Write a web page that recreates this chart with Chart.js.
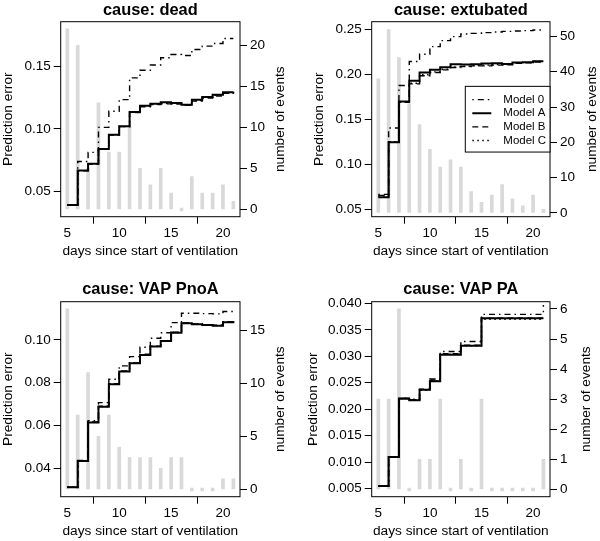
<!DOCTYPE html>
<html>
<head>
<meta charset="utf-8">
<script src="https://cdn.jsdelivr.net/npm/chart.js@4.4.1/dist/chart.umd.min.js"></script>
<style>
  body { margin: 0; background: #fff; width: 600px; height: 541px; overflow: hidden; position: relative; }
  canvas { position: absolute; }
</style>
</head>
<body>
<canvas id="pDead" width="300" height="270" style="left:0;top:0"></canvas>
<canvas id="pExt" width="300" height="270" style="left:300px;top:0"></canvas>
<canvas id="pPnoA" width="300" height="270" style="left:0;top:280px"></canvas>
<canvas id="pPA" width="300" height="270" style="left:300px;top:280px"></canvas>
<script>
// days since start of ventilation
const days = [5, 6, 7, 8, 9, 10, 11, 12, 13, 14, 15, 16, 17, 18, 19, 20, 21];
const xTicks = [5, 10, 15, 20];
const modelNames = ['Model 0', 'Model A', 'Model B', 'Model C'];

// cause: dead
const deadModel0 = [0.0393, 0.0740, 0.0812, 0.1012, 0.1140, 0.1233, 0.1407, 0.1468, 0.1510, 0.1567, 0.1593, 0.1585, 0.1633, 0.1660, 0.1681, 0.1721, 0.1721];
const deadModelA = [0.0393, 0.0668, 0.0721, 0.0839, 0.0953, 0.1020, 0.1135, 0.1185, 0.1201, 0.1212, 0.1207, 0.1193, 0.1233, 0.1255, 0.1273, 0.1292, 0.1297];
const deadModelB = [0.0395, 0.0666, 0.0719, 0.0836, 0.0950, 0.1018, 0.1131, 0.1176, 0.1193, 0.1199, 0.1198, 0.1188, 0.1221, 0.1245, 0.1262, 0.1283, 0.1288];
const deadModelC = [0.0394, 0.0667, 0.0720, 0.0838, 0.0952, 0.1019, 0.1133, 0.1180, 0.1196, 0.1203, 0.1202, 0.1190, 0.1226, 0.1249, 0.1267, 0.1287, 0.1292];
const deadEvents = [22, 20, 5, 13, 7, 7, 10, 5, 3, 5, 2, 0, 4, 2, 2, 3, 1];
const deadErrTicks = [0.05, 0.10, 0.15];
const deadEventTicks = [0, 5, 10, 15, 20];

// cause: extubated
const extModel0 = [0.0666, 0.1402, 0.1874, 0.2139, 0.2220, 0.2305, 0.2371, 0.2415, 0.2445, 0.2452, 0.2460, 0.2467, 0.2474, 0.2478, 0.2482, 0.2489, 0.2489];
const extModelA = [0.0636, 0.1244, 0.1697, 0.1925, 0.2017, 0.2047, 0.2076, 0.2110, 0.2106, 0.2110, 0.2117, 0.2121, 0.2113, 0.2128, 0.2132, 0.2143, 0.2143];
const extModelB = [0.0655, 0.1244, 0.1686, 0.1892, 0.1981, 0.2018, 0.2047, 0.2073, 0.2084, 0.2091, 0.2091, 0.2099, 0.2102, 0.2121, 0.2125, 0.2135, 0.2135];
const extModelC = [0.0648, 0.1251, 0.1693, 0.1899, 0.1992, 0.2025, 0.2054, 0.2080, 0.2088, 0.2095, 0.2099, 0.2106, 0.2106, 0.2125, 0.2128, 0.2139, 0.2139];
const extEvents = [38, 52, 44, 31, 25, 18, 13, 15, 13, 6, 3, 5, 8, 4, 2, 5, 1];
const extErrTicks = [0.05, 0.10, 0.15, 0.20, 0.25];
const extEventTicks = [0, 10, 20, 30, 40, 50];

// cause: VAP PnoA
const pnoaModel0 = [0.0311, 0.0436, 0.0623, 0.0707, 0.0816, 0.0879, 0.0922, 0.0966, 0.1008, 0.1034, 0.1081, 0.1125, 0.1125, 0.1123, 0.1122, 0.1133, 0.1133];
const pnoaModelA = [0.0311, 0.0434, 0.0614, 0.0688, 0.0793, 0.0852, 0.0891, 0.0930, 0.0969, 0.0995, 0.1034, 0.1078, 0.1073, 0.1070, 0.1067, 0.1083, 0.1089];
const pnoaModelB = [0.0312, 0.0435, 0.0617, 0.0690, 0.0795, 0.0855, 0.0893, 0.0933, 0.0971, 0.0997, 0.1036, 0.1080, 0.1075, 0.1072, 0.1069, 0.1085, 0.1090];
const pnoaModelC = [0.0311, 0.0435, 0.0615, 0.0689, 0.0794, 0.0853, 0.0892, 0.0931, 0.0970, 0.0996, 0.1035, 0.1079, 0.1074, 0.1071, 0.1068, 0.1084, 0.1089];
const pnoaEvents = [17, 7, 11, 5, 7, 4, 3, 3, 3, 2, 3, 3, 0, 0, 0, 1, 1];
const pnoaErrTicks = [0.04, 0.06, 0.08, 0.10];
const pnoaEventTicks = [0, 5, 10, 15];

// cause: VAP PA
const paModel0 = [0.0055, 0.0110, 0.0221, 0.0219, 0.0237, 0.0257, 0.0309, 0.0309, 0.0328, 0.0328, 0.0379, 0.0379, 0.0379, 0.0379, 0.0379, 0.0379, 0.0397];
const paModelA = [0.0055, 0.0110, 0.0220, 0.0217, 0.0237, 0.0253, 0.0303, 0.0303, 0.0320, 0.0320, 0.0372, 0.0372, 0.0372, 0.0372, 0.0372, 0.0372, 0.0372];
const paModelB = [0.0055, 0.0110, 0.0221, 0.0218, 0.0238, 0.0255, 0.0305, 0.0305, 0.0321, 0.0321, 0.0372, 0.0372, 0.0372, 0.0372, 0.0372, 0.0372, 0.0372];
const paModelC = [0.0055, 0.0110, 0.0220, 0.0218, 0.0236, 0.0254, 0.0304, 0.0304, 0.0320, 0.0320, 0.0370, 0.0370, 0.0370, 0.0370, 0.0370, 0.0370, 0.0370];
const paEvents = [3, 3, 6, 0, 1, 1, 3, 0, 1, 0, 3, 0, 0, 0, 0, 0, 1];
const paErrTicks = [0.005, 0.010, 0.015, 0.020, 0.025, 0.030, 0.035, 0.040];
const paEventTicks = [0, 1, 2, 3, 4, 5, 6];

Chart.defaults.font.family = '"Liberation Sans", Arial, sans-serif';
Chart.defaults.color = '#000';

const FONT = '"Liberation Sans", Arial, sans-serif';
const lineStyles = [
  { dash: [1.5, 4, 6, 4], width: 1.4 },  // dot-dash
  { dash: [], width: 2 },                 // solid
  { dash: [6, 4], width: 1.4 },           // dashed
  { dash: [1.5, 3.5], width: 1.4 }        // dotted
];

// box round the plot region, like R's box()
const frame = {
  id: 'frame',
  afterDatasetsDraw(chart) {
    const a = chart.chartArea, ctx = chart.ctx;
    ctx.save();
    ctx.strokeStyle = '#000';
    ctx.lineWidth = 1;
    ctx.strokeRect(a.left, a.top, a.right - a.left, a.bottom - a.top);
    ctx.restore();
  }
};

// main title over the plot region and right axis label (reads bottom-to-top)
function panelText(p) {
  return {
    id: 'panelText',
    afterDraw(chart) {
      const a = chart.chartArea, ctx = chart.ctx;
      ctx.save();
      ctx.fillStyle = '#000';
      ctx.font = 'bold 16.4px ' + FONT;
      ctx.textAlign = 'center';
      ctx.textBaseline = 'alphabetic';
      ctx.fillText(p.title, (a.left + a.right) / 2, p.titleY);
      ctx.font = '13.7px ' + FONT;
      ctx.textBaseline = 'middle';
      ctx.translate(p.rightTitleX, (a.top + a.bottom) / 2);
      ctx.rotate(-Math.PI / 2);
      ctx.fillText('number of events', 0, 0);
      ctx.restore();
    }
  };
}

// legend box placed at the right edge of the plot region
const legendBox = {
  id: 'legendBox',
  afterDatasetsDraw(chart) {
    const a = chart.chartArea, ctx = chart.ctx;
    const w = 84.7, h = 65.7;
    const x0 = a.right - w, y0 = (a.top + a.bottom) / 2 - h / 2;
    ctx.save();
    ctx.fillStyle = '#fff';
    ctx.fillRect(x0, y0, w, h);
    ctx.strokeStyle = '#000';
    ctx.lineWidth = 1;
    ctx.strokeRect(x0, y0, w, h);
    ctx.font = '11.5px ' + FONT;
    ctx.textBaseline = 'middle';
    ctx.textAlign = 'left';
    ctx.fillStyle = '#000';
    chart.data.datasets.filter(ds => ds.type === 'line').forEach((ds, i) => {
      const y = y0 + 13.3 + i * 13.6;
      ctx.beginPath();
      ctx.setLineDash(ds.borderDash);
      ctx.lineWidth = ds.borderWidth;
      ctx.moveTo(x0 + 7, y);
      ctx.lineTo(x0 + 26, y);
      ctx.stroke();
      ctx.setLineDash([]);
      ctx.fillText(ds.label, x0 + 38, y);
    });
    ctx.restore();
  }
};

function makePanel(id, p) {
  const series = [p.m0, p.mA, p.mB, p.mC];
  const datasets = series.map((vals, i) => ({
    type: 'line',
    label: modelNames[i],
    yAxisID: 'y',
    data: days.map((d, k) => ({ x: d, y: vals[k] })),
    borderColor: '#000',
    borderWidth: lineStyles[i].width,
    borderDash: lineStyles[i].dash,
    stepped: true,
    pointRadius: 0,
    fill: false,
    order: 4 - i
  }));
  datasets.push({
    type: 'bar',
    label: 'number of events',
    yAxisID: 'y2',
    data: days.map((d, k) => ({ x: d, y: p.events[k] })),
    backgroundColor: '#d9d9d9',
    borderWidth: 0,
    barThickness: 3,
    minBarLength: 3,
    order: 5
  });

  const tickGrid = { drawOnChartArea: false, drawTicks: true, tickLength: 7, color: '#000', tickColor: '#000', lineWidth: 1 };

  return new Chart(document.getElementById(id), {
    type: 'line',
    data: { datasets },
    options: {
      responsive: false,
      animation: false,
      layout: { padding: { top: 21.7, left: 0, right: 0, bottom: 0 } },
      plugins: { legend: { display: false }, tooltip: { enabled: false } },
      scales: {
        x: {
          type: 'linear', min: 4.36, max: 21.64, offset: false,
          afterBuildTicks: s => { s.ticks = xTicks.map(v => ({ value: v })); },
          afterFit: s => { s.height = 53.3; },
          grid: tickGrid,
          border: { display: false },
          ticks: { padding: 1.5, font: { size: 13.5 }, maxRotation: 0, autoSkip: false },
          title: { display: true, text: 'days since start of ventilation', font: { size: 13.7 }, padding: { top: 0, bottom: 10.3 } }
        },
        y: {
          position: 'left', min: p.yMin, max: p.yMax,
          afterBuildTicks: s => { s.ticks = p.errTicks.map(v => ({ value: v })); },
          afterFit: s => { s.width = p.leftW; },
          grid: tickGrid,
          border: { display: false },
          ticks: { padding: 3, font: { size: 13.5 }, callback: v => Number(v).toFixed(p.dec) },
          title: { display: true, text: 'Prediction error', font: { size: 13.7 }, padding: { top: p.leftTitlePad, bottom: 0 } }
        },
        y2: {
          position: 'right', min: p.eMin, max: p.eMax,
          afterBuildTicks: s => { s.ticks = p.eventTicks.map(v => ({ value: v })); },
          afterFit: s => { s.width = 300 - p.rightEdge; },
          grid: tickGrid,
          border: { display: false },
          ticks: { padding: 3, font: { size: 13.5 }, callback: v => String(v) }
        }
      }
    },
    plugins: [frame, panelText(p)].concat(p.legend ? [legendBox] : [])
  });
}

makePanel('pDead', {
  title: 'cause: dead', titleY: 14.5, rightTitleX: 280.5,
  m0: deadModel0, mA: deadModelA, mB: deadModelB, mC: deadModelC, events: deadEvents,
  errTicks: deadErrTicks, eventTicks: deadEventTicks, dec: 2,
  yMin: 0.0299, yMax: 0.1855, eMin: -0.88, eMax: 22.88,
  leftW: 60.7, rightEdge: 240, leftTitlePad: 0.3
});
makePanel('pExt', {
  title: 'cause: extubated', titleY: 14.5, rightTitleX: 292,
  m0: extModel0, mA: extModelA, mB: extModelB, mC: extModelC, events: extEvents,
  errTicks: extErrTicks, eventTicks: extEventTicks, dec: 2,
  yMin: 0.0419, yMax: 0.2581, eMin: -1.1, eMax: 54.2,
  leftW: 71.7, rightEdge: 250, leftTitlePad: 11.3, legend: true
});
makePanel('pPnoA', {
  title: 'cause: VAP PnoA', titleY: 13.5, rightTitleX: 280.5,
  m0: pnoaModel0, mA: pnoaModelA, mB: pnoaModelB, mC: pnoaModelC, events: pnoaEvents,
  errTicks: pnoaErrTicks, eventTicks: pnoaEventTicks, dec: 2,
  yMin: 0.0267, yMax: 0.1179, eMin: -0.68, eMax: 17.68,
  leftW: 60.7, rightEdge: 240, leftTitlePad: 0.3
});
makePanel('pPA', {
  title: 'cause: VAP PA', titleY: 13.5, rightTitleX: 286.7,
  m0: paModel0, mA: paModelA, mB: paModelB, mC: paModelC, events: paEvents,
  errTicks: paErrTicks, eventTicks: paEventTicks, dec: 3,
  yMin: 0.0035, yMax: 0.0403, eMin: -0.24, eMax: 6.24,
  leftW: 71.7, rightEdge: 250, leftTitlePad: 5.1
});
</script>
</body>
</html>
